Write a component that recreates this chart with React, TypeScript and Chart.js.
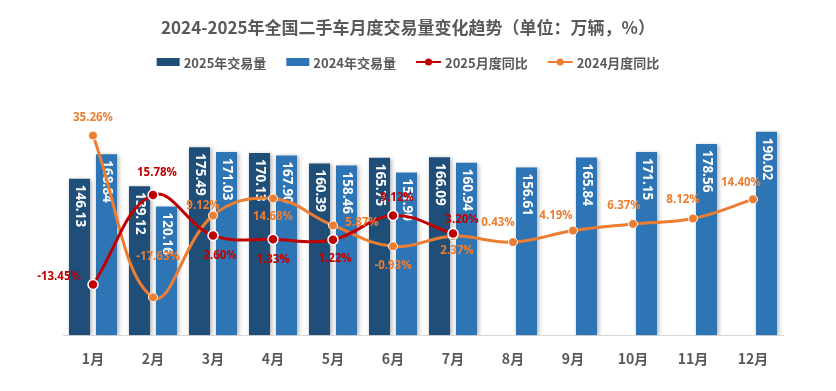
import React, { useEffect, useRef } from "react";
import { Chart, registerables } from "chart.js";

Chart.register(...registerables);

const months = ["1月", "2月", "3月", "4月", "5月", "6月", "7月", "8月", "9月", "10月", "11月", "12月"];
const vol2025 = [146.13, 139.12, 175.49, 170.13, 160.39, 165.75, 166.09, null, null, null, null, null];
const vol2024 = [168.84, 120.16, 171.03, 167.9, 158.46, 151.9, 160.94, 156.61, 165.84, 171.15, 178.56, 190.02];
const yoy2025 = [-13.45, 15.78, 2.6, 1.33, 1.22, 9.12, 3.2, null, null, null, null, null];
const yoy2024 = [35.26, -17.63, 9.12, 14.68, 5.87, -0.93, 2.37, 0.43, 4.19, 6.37, 8.12, 14.4];

const TITLE = "2024-2025年全国二手车月度交易量变化趋势（单位：万辆，%）";
const seriesNames = ["2025年交易量", "2024年交易量", "2025月度同比", "2024月度同比"];

const C_NAVY = "#1f4e79";
const C_BLUE = "#2e75b6";
const C_RED = "#c00000";
const C_ORANGE = "#ed7d31";
const C_TEXT = "#595959";
const CJK = '"Noto Sans CJK SC", "Noto Sans", sans-serif';
const NUM = '"Open Sans", "Noto Sans", sans-serif';

// label nudges (dx, dy) relative to each point
const nudge2025: [number, number][] = [[-34, -8], [4, -22], [7, 20], [0, 20], [2, 19], [4, -18], [9, -14]];
const nudge2024: [number, number][] = [
  [0, -18], [5, -41], [-10, -10], [0, 18], [29, -3], [0, 19], [4, 15], [-15, -19], [-17, -15], [-9, -18], [-10, -19], [-12, -17],
];

const labelsPlugin = {
  id: "customLabels",
  beforeDatasetDraw(chart: any, args: any) {
    const ds = chart.data.datasets[args.index];
    if (ds.type === "bar") {
      const ctx = chart.ctx;
      ctx.save();
      ctx.shadowColor = "rgba(0,0,0,0.28)";
      ctx.shadowBlur = 4;
      ctx.shadowOffsetX = 1.5;
      ctx.shadowOffsetY = 1;
    }
  },
  afterDatasetDraw(chart: any, args: any) {
    const ds = chart.data.datasets[args.index];
    if (ds.type !== "bar") return;
    const ctx = chart.ctx;
    ctx.restore();
    ctx.save();
    ctx.fillStyle = "#ffffff";
    ctx.font = `bold 13.5px ${NUM}`;
    ctx.textAlign = "left";
    ctx.textBaseline = "middle";
    args.meta.data.forEach((el: any, i: number) => {
      const v = ds.data[i];
      if (v == null) return;
      ctx.save();
      ctx.translate(el.x, el.y + 6);
      ctx.rotate(Math.PI / 2);
      ctx.fillText(v.toFixed(2), 0, 0);
      ctx.restore();
    });
    ctx.restore();
  },
  afterDatasetsDraw(chart: any) {
    const ctx = chart.ctx;
    ctx.save();
    ctx.font = `bold 11.5px ${NUM}`;
    ctx.textAlign = "center";
    ctx.textBaseline = "middle";
    chart.data.datasets.forEach((ds: any, di: number) => {
      if (ds.type !== "line") return;
      const meta = chart.getDatasetMeta(di);
      const nudges = ds.label === seriesNames[2] ? nudge2025 : nudge2024;
      ctx.fillStyle = ds.borderColor;
      meta.data.forEach((el: any, i: number) => {
        const v = ds.data[i];
        if (v == null) return;
        const [dx, dy] = nudges[i] || [0, -18];
        ctx.fillText(v.toFixed(2) + "%", el.x + dx, el.y + dy);
      });
    });
    ctx.restore();

    // title
    const cx = 408;
    ctx.save();
    ctx.fillStyle = C_TEXT;
    ctx.font = `bold 17px ${CJK}`;
    ctx.textAlign = "center";
    ctx.textBaseline = "middle";
    ctx.fillText(TITLE, cx, 28);

    // legend
    ctx.font = `bold 13px ${CJK}`;
    const iconW = [23, 23, 25, 25];
    const gapIcon = 4;
    const gapItem = 20;
    const widths = seriesNames.map((n, i) => iconW[i] + gapIcon + ctx.measureText(n).width);
    const total = widths.reduce((a, b) => a + b, 0) + gapItem * (seriesNames.length - 1);
    let x = cx - total / 2;
    const y = 62;
    const colors = [C_NAVY, C_BLUE, C_RED, C_ORANGE];
    ctx.textAlign = "left";
    seriesNames.forEach((n, i) => {
      if (i < 2) {
        ctx.fillStyle = colors[i];
        ctx.fillRect(x, y - 4, iconW[i], 8);
      } else {
        ctx.strokeStyle = colors[i];
        ctx.lineWidth = 2;
        ctx.beginPath();
        ctx.moveTo(x, y);
        ctx.lineTo(x + iconW[i], y);
        ctx.stroke();
        ctx.fillStyle = colors[i];
        ctx.beginPath();
        ctx.arc(x + iconW[i] / 2, y, 3.5, 0, Math.PI * 2);
        ctx.fill();
      }
      ctx.fillStyle = C_TEXT;
      ctx.fillText(n, x + iconW[i] + gapIcon, y + 1);
      x += widths[i] + gapItem;
    });
    ctx.restore();
  },
};

export default function App() {
  const ref = useRef<HTMLCanvasElement | null>(null);
  useEffect(() => {
    document.body.style.margin = "0";
    if (!ref.current) return;
    const chart = new Chart(ref.current, {
      type: "bar",
      data: {
        labels: months,
        datasets: [
          {
            type: "bar",
            label: seriesNames[0],
            data: vol2025 as any,
            backgroundColor: C_NAVY,
            yAxisID: "y",
            order: 2,
            categoryPercentage: 0.9,
            barPercentage: 0.78,
          },
          {
            type: "bar",
            label: seriesNames[1],
            data: vol2024,
            backgroundColor: C_BLUE,
            yAxisID: "y",
            order: 2,
            categoryPercentage: 0.9,
            barPercentage: 0.78,
          },
          {
            type: "line",
            label: seriesNames[2],
            data: yoy2025 as any,
            borderColor: C_RED,
            backgroundColor: C_RED,
            borderWidth: 3,
            pointRadius: 5,
            pointBorderColor: "#ffffff",
            pointBorderWidth: 1.5,
            pointBackgroundColor: C_RED,
            tension: 0.4,
            yAxisID: "y1",
            order: 0,
          },
          {
            type: "line",
            label: seriesNames[3],
            data: yoy2024,
            borderColor: C_ORANGE,
            backgroundColor: C_ORANGE,
            borderWidth: 3,
            pointRadius: 4.5,
            pointBorderColor: "#ffffff",
            pointBorderWidth: 1,
            pointBackgroundColor: C_ORANGE,
            tension: 0.4,
            yAxisID: "y1",
            order: 1,
          },
        ],
      },
      plugins: [labelsPlugin],
      options: {
        animation: false,
        responsive: true,
        maintainAspectRatio: false,
        layout: { padding: { top: 121, left: 63, right: 53, bottom: 17 } },
        plugins: {
          legend: { display: false },
          title: { display: false },
          tooltip: { enabled: false },
        },
        scales: {
          x: {
            grid: { display: false },
            border: { display: true, color: "#d9d9d9", width: 1 },
            ticks: {
              color: C_TEXT,
              font: { family: CJK, size: 14, weight: "bold" },
              padding: 7,
            },
          },
          y: { display: false, min: 0, max: 200 },
          y1: { display: false, min: -30, max: 40, position: "right" },
        },
      },
    });
    return () => chart.destroy();
  }, []);
  return (
    <div style={{ width: 836, height: 391, position: "relative", background: "#fff" }}>
      <canvas ref={ref} />
    </div>
  );
}
